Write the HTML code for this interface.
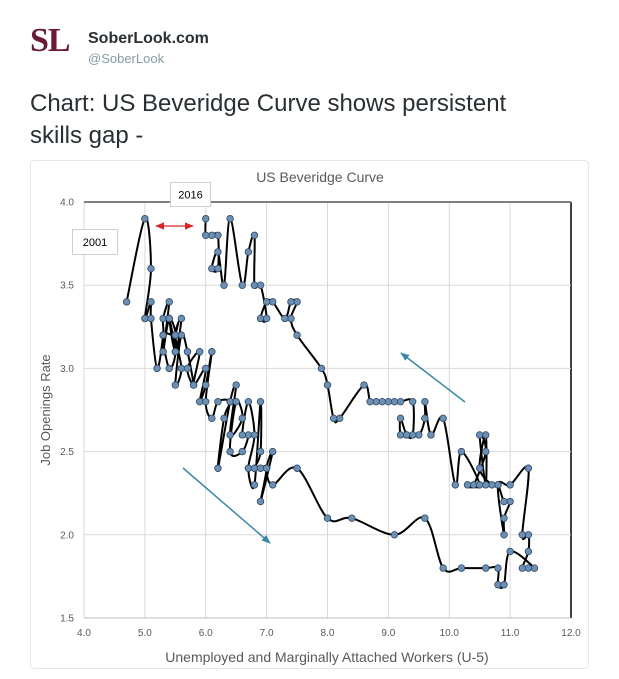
<!DOCTYPE html>
<html><head><meta charset="utf-8"><style>
body{margin:0;background:#fff;width:619px;height:679px;overflow:hidden;font-family:"Liberation Sans",sans-serif}
.abs{position:absolute}
</style></head><body>
<div class="abs" style="left:30px;top:22px;font-family:'Liberation Serif',serif;font-weight:bold;font-size:34px;color:#6b1a33;letter-spacing:-1px">SL</div>
<div class="abs" style="left:88px;top:30px;font-weight:bold;font-size:16px;color:#292f33">SoberLook.com</div>
<div class="abs" style="left:88px;top:51px;font-size:13px;color:#8899a6">@SoberLook</div>
<div class="abs" style="left:30px;top:88px;font-size:24px;line-height:32px;color:#292f33;width:540px">Chart: US Beveridge Curve shows persistent<br>skills gap -</div>
<svg class="abs" style="left:0;top:0" width="619" height="679" id="svg">
<rect x="30.5" y="160.5" width="558" height="508" rx="4" fill="#fff" stroke="#e1e8ed"/>
<text x="320" y="182" text-anchor="middle" font-size="14" fill="#595959">US Beveridge Curve</text>
<g id="grid"></g><g id="series"></g><g id="ann"></g>
<text transform="translate(50,410) rotate(-90)" text-anchor="middle" font-size="13" fill="#595959">Job Openings Rate</text>
<text x="327" y="662" text-anchor="middle" font-size="14" fill="#595959">Unemployed and Marginally Attached Workers (U-5)</text>
</svg>
<script>
const xTicks=[4,5,6,7,8,9,10,11,12];
const yTicks=[1.5,2.0,2.5,3.0,3.5,4.0];
const uRate=[4.7,5.0,5.1,5.0,5.1,5.1,5.2,5.3,5.3,5.4,5.3,5.4,5.5,5.3,5.4,5.5,5.4,5.5,5.6,5.5,5.6,5.5,5.6,5.7,5.8,5.7,5.9,5.8,6.0,5.9,6.0,6.1,6.0,6.1,6.2,6.4,6.3,6.2,6.4,6.5,6.4,6.6,6.5,6.4,6.6,6.7,6.6,6.7,6.8,6.7,6.8,6.9,6.9,6.8,6.9,7.0,6.9,7.1,7.0,7.1,7.5,8.0,8.4,9.1,9.6,9.9,10.2,10.6,10.8,10.8,10.9,11.0,11.4,11.3,11.2,11.3,11.3,11.2,11.3,11.0,10.8,10.9,10.9,11.0,10.9,10.8,10.7,10.5,10.6,10.6,10.5,10.6,10.4,10.3,10.5,10.2,10.1,9.9,9.7,9.6,9.6,9.5,9.3,9.2,9.2,9.3,9.4,9.4,9.2,9.1,9.0,8.9,8.8,8.7,8.6,8.2,8.1,8.0,7.9,7.5,7.4,7.5,7.4,7.3,7.1,7.0,6.9,7.0,6.9,6.8,6.8,6.7,6.6,6.4,6.3,6.2,6.1,6.2,6.2,6.1,6.0,6.0];
const jobRate=[3.4,3.9,3.6,3.3,3.4,3.3,3.0,3.2,3.3,3.4,3.1,3.3,3.2,3.2,3.0,3.1,3.3,3.1,3.3,3.2,3.0,2.9,3.2,3.1,2.9,3.0,3.1,2.9,3.0,2.8,2.9,3.1,2.8,2.7,2.8,2.8,2.7,2.4,2.8,2.9,2.6,2.7,2.8,2.5,2.5,2.6,2.6,2.8,2.6,2.4,2.3,2.8,2.5,2.4,2.4,2.4,2.2,2.5,2.4,2.3,2.4,2.1,2.1,2.0,2.1,1.8,1.8,1.8,1.8,1.7,1.7,1.9,1.8,1.8,1.8,1.9,2.0,2.0,2.4,2.3,2.3,2.0,2.1,2.2,2.2,2.3,2.3,2.4,2.6,2.3,2.6,2.5,2.3,2.3,2.3,2.5,2.3,2.7,2.6,2.8,2.7,2.6,2.6,2.6,2.7,2.6,2.6,2.8,2.8,2.8,2.8,2.8,2.8,2.8,2.9,2.7,2.7,2.9,3.0,3.2,3.3,3.4,3.4,3.3,3.4,3.4,3.3,3.3,3.5,3.5,3.8,3.7,3.5,3.9,3.5,3.7,3.6,3.6,3.8,3.8,3.8,3.9];
const X=v=>84+(v-4)*60.875, Y=v=>202+(4-v)*166.4;
const NS='http://www.w3.org/2000/svg';
function mk(t,a,p){const e=document.createElementNS(NS,t);for(const k in a)e.setAttribute(k,a[k]);p.appendChild(e);return e;}
const grid=document.getElementById('grid');
xTicks.forEach(t=>{
  const l=mk('line',{x1:X(t),x2:X(t),y1:Y(4),y2:Y(1.5),stroke:t==12?'#000':'#d9d9d9','stroke-width':t==12?1.5:1},grid);
  
  
  const tx=mk('text',{x:X(t),y:636,'text-anchor':'middle','font-size':10,fill:'#595959'},grid);tx.textContent=t.toFixed(1);
  
  
});
yTicks.forEach(t=>{
  const l=mk('line',{x1:X(4),x2:X(12),y1:Y(t),y2:Y(t),stroke:t==4?'#7f7f7f':(t==1.5?'#bfbfbf':'#d9d9d9'),'stroke-width':t==4?2:1},grid);
  
  
  const tx=mk('text',{x:74,y:Y(t)+3.5,'text-anchor':'end','font-size':10,fill:'#595959'},grid);tx.textContent=t.toFixed(1);
  
  
});
const ser=document.getElementById('series');
const pts=uRate.map((u,i)=>[X(u),Y(jobRate[i])]);
let d='M'+pts[0][0]+','+pts[0][1];
for(let i=0;i<pts.length-1;i++){
  const p0=pts[Math.max(0,i-1)],p1=pts[i],p2=pts[i+1],p3=pts[Math.min(pts.length-1,i+2)],k=6;
  d+=` C${p1[0]+(p2[0]-p0[0])/k},${p1[1]+(p2[1]-p0[1])/k} ${p2[0]-(p3[0]-p1[0])/k},${p2[1]-(p3[1]-p1[1])/k} ${p2[0]},${p2[1]}`;
}
const path=mk('path',{d:d,fill:'none',stroke:'#000','stroke-width':2},ser);


pts.forEach(p=>{
  const c=mk('circle',{cx:p[0],cy:p[1],r:3.3,fill:'#6d8fb3',stroke:'#2e4a66','stroke-width':0.8},ser);
  
  
});
const ann=document.getElementById('ann');
ann.innerHTML=`
<defs><marker id="ar" viewBox="0 0 10 10" refX="9" refY="5" markerWidth="7" markerHeight="7" orient="auto-start-reverse"><path d="M0,1L10,5L0,9z" fill="#d62728"/></marker>
<marker id="ab" viewBox="0 0 10 10" refX="9" refY="5" markerWidth="6" markerHeight="6" orient="auto"><path d="M0,1L10,5L0,9z" fill="#3a87a8"/></marker></defs>
<line x1="156" y1="226" x2="193" y2="226" stroke="#d62728" stroke-width="1.3" marker-start="url(#ar)" marker-end="url(#ar)"/>
<line x1="465" y1="402" x2="401" y2="353" stroke="#3a87a8" stroke-width="1.5" marker-end="url(#ab)"/>
<line x1="183" y1="468" x2="270" y2="543" stroke="#3a87a8" stroke-width="1.5" marker-end="url(#ab)"/>
<g><rect x="170.5" y="182.5" width="40" height="24" fill="#fff" stroke="#d0d0d0"/><text x="190.5" y="198.5" text-anchor="middle" font-size="11" fill="#000">2016</text></g>
<g><rect x="72.5" y="229.5" width="45" height="25" fill="#fff" stroke="#d0d0d0"/><text x="95" y="246" text-anchor="middle" font-size="11" fill="#000">2001</text></g>`;
</script>
</body></html>
